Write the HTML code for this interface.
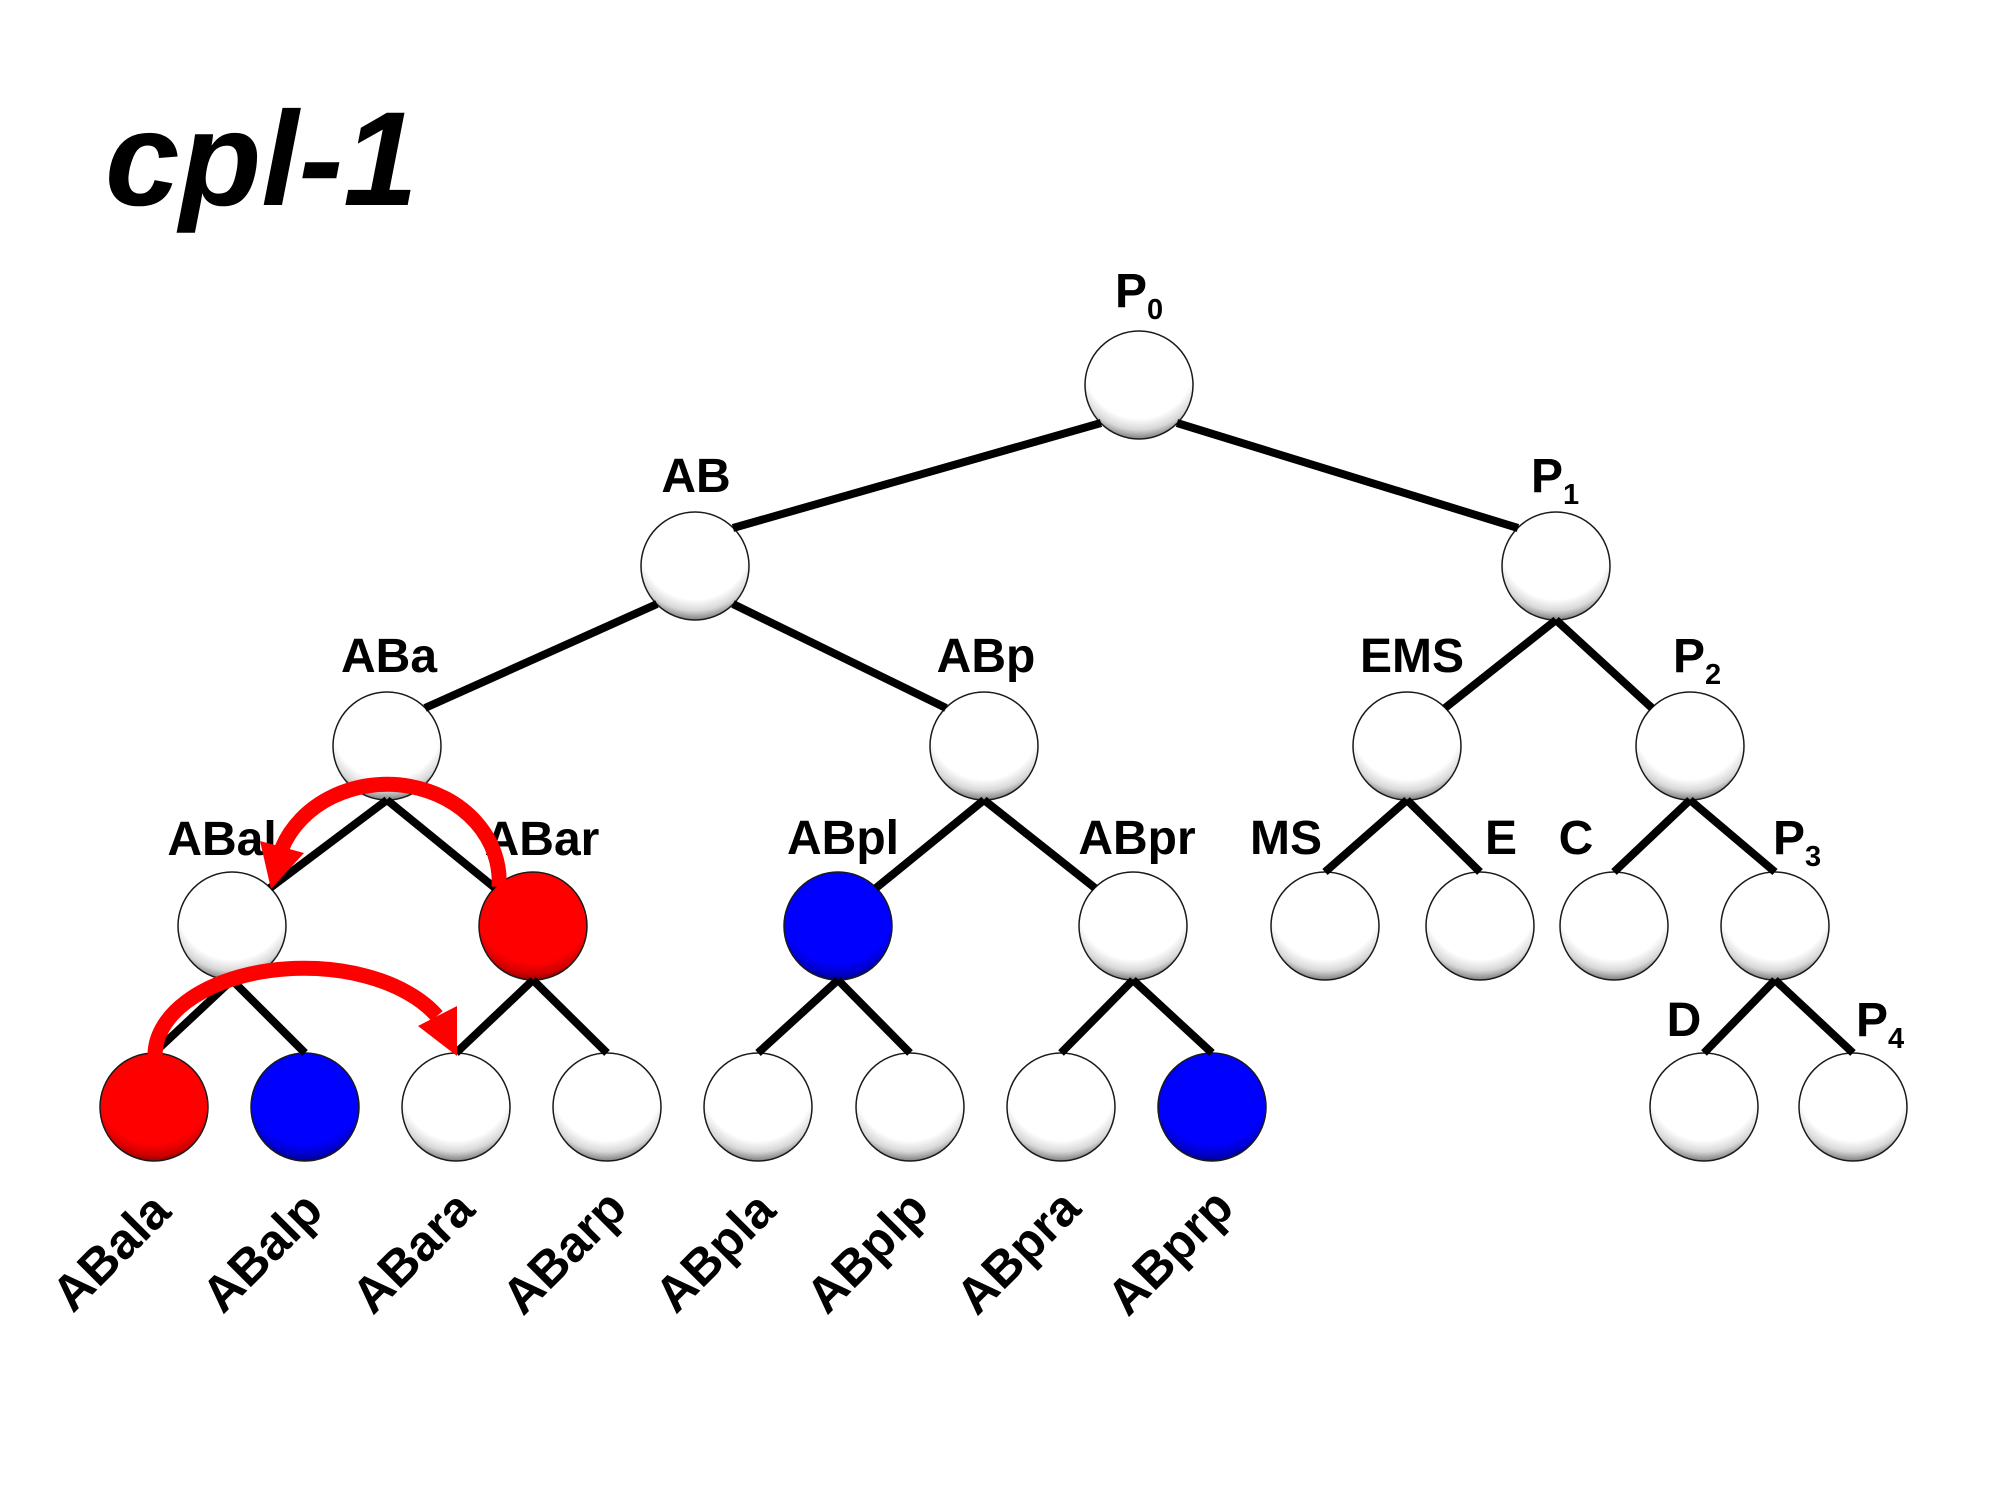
<!DOCTYPE html>
<html>
<head>
<meta charset="utf-8">
<style>
  html, body { margin:0; padding:0; background:#fff; }
  svg { display:block; }
  .lbl { font-family:"Liberation Sans", Arial, sans-serif; font-weight:bold; font-size:48px; fill:#000; }
  .rot { font-family:"Liberation Sans", Arial, sans-serif; font-weight:bold; font-size:50px; fill:#000; }
  .sub { font-size:29px; }
</style>
</head>
<body>
<svg width="1990" height="1493" viewBox="0 0 1990 1493" xmlns="http://www.w3.org/2000/svg">
  <defs>
    <radialGradient id="gw" cx="50%" cy="30%" r="75%" fx="50%" fy="30%">
      <stop offset="0" stop-color="#ffffff"/>
      <stop offset="0.68" stop-color="#ffffff"/>
      <stop offset="0.82" stop-color="#d8d8d8"/>
      <stop offset="0.94" stop-color="#7a7a7a"/>
      <stop offset="1" stop-color="#555555"/>
    </radialGradient>
    <radialGradient id="gr" cx="50%" cy="30%" r="75%" fx="50%" fy="30%">
      <stop offset="0" stop-color="#ff0000"/>
      <stop offset="0.72" stop-color="#ff0000"/>
      <stop offset="0.86" stop-color="#d00000"/>
      <stop offset="1" stop-color="#600000"/>
    </radialGradient>
    <radialGradient id="gb" cx="50%" cy="30%" r="75%" fx="50%" fy="30%">
      <stop offset="0" stop-color="#0000ff"/>
      <stop offset="0.72" stop-color="#0000ff"/>
      <stop offset="0.86" stop-color="#0000c8"/>
      <stop offset="1" stop-color="#000050"/>
    </radialGradient>
  </defs>

  <rect x="0" y="0" width="1990" height="1493" fill="#fff"/>

  <!-- Title -->
  <text x="105" y="205" style="font-family:'Liberation Sans', Arial, sans-serif; font-weight:bold; font-style:italic; font-size:134px;" fill="#000">cpl-1</text>

  <!-- Circles -->
  <g stroke="#1a1a1a" stroke-width="1.5">
    <circle cx="1139" cy="385" r="54" fill="url(#gw)"/>
    <circle cx="695" cy="566" r="54" fill="url(#gw)"/>
    <circle cx="1556" cy="566" r="54" fill="url(#gw)"/>
    <circle cx="387" cy="746" r="54" fill="url(#gw)"/>
    <circle cx="984" cy="746" r="54" fill="url(#gw)"/>
    <circle cx="1407" cy="746" r="54" fill="url(#gw)"/>
    <circle cx="1690" cy="746" r="54" fill="url(#gw)"/>

    <circle cx="232" cy="926" r="54" fill="url(#gw)"/>
    <circle cx="533" cy="926" r="54" fill="url(#gr)"/>
    <circle cx="838" cy="926" r="54" fill="url(#gb)"/>
    <circle cx="1133" cy="926" r="54" fill="url(#gw)"/>
    <circle cx="1325" cy="926" r="54" fill="url(#gw)"/>
    <circle cx="1480" cy="926" r="54" fill="url(#gw)"/>
    <circle cx="1614" cy="926" r="54" fill="url(#gw)"/>
    <circle cx="1775" cy="926" r="54" fill="url(#gw)"/>

    <circle cx="154" cy="1107" r="54" fill="url(#gr)"/>
    <circle cx="305" cy="1107" r="54" fill="url(#gb)"/>
    <circle cx="456" cy="1107" r="54" fill="url(#gw)"/>
    <circle cx="607" cy="1107" r="54" fill="url(#gw)"/>
    <circle cx="758" cy="1107" r="54" fill="url(#gw)"/>
    <circle cx="910" cy="1107" r="54" fill="url(#gw)"/>
    <circle cx="1061" cy="1107" r="54" fill="url(#gw)"/>
    <circle cx="1212" cy="1107" r="54" fill="url(#gb)"/>
    <circle cx="1704" cy="1107" r="54" fill="url(#gw)"/>
    <circle cx="1853" cy="1107" r="54" fill="url(#gw)"/>
  </g>

  <!-- Connector lines -->
  <g stroke="#000" stroke-width="8" stroke-linecap="butt" fill="none">
    <line x1="1101" y1="423" x2="733" y2="528"/>
    <line x1="1177" y1="423" x2="1518" y2="528"/>
    <line x1="657" y1="604" x2="425" y2="708"/>
    <line x1="733" y1="604" x2="946" y2="708"/>
    <line x1="1556" y1="620" x2="1445" y2="708"/>
    <line x1="1556" y1="620" x2="1652" y2="708"/>

    <line x1="387" y1="800" x2="270" y2="888"/>
    <line x1="387" y1="800" x2="495" y2="888"/>
    <line x1="984" y1="800" x2="876" y2="888"/>
    <line x1="984" y1="800" x2="1095" y2="888"/>
    <line x1="1407" y1="800" x2="1325" y2="872"/>
    <line x1="1407" y1="800" x2="1480" y2="872"/>
    <line x1="1690" y1="800" x2="1614" y2="872"/>
    <line x1="1690" y1="800" x2="1775" y2="872"/>

    <line x1="232" y1="980" x2="154" y2="1053"/>
    <line x1="232" y1="980" x2="305" y2="1053"/>
    <line x1="533" y1="980" x2="456" y2="1053"/>
    <line x1="533" y1="980" x2="607" y2="1053"/>
    <line x1="838" y1="980" x2="758" y2="1053"/>
    <line x1="838" y1="980" x2="910" y2="1053"/>
    <line x1="1133" y1="980" x2="1061" y2="1053"/>
    <line x1="1133" y1="980" x2="1212" y2="1053"/>
    <line x1="1775" y1="980" x2="1704" y2="1053"/>
    <line x1="1775" y1="980" x2="1853" y2="1053"/>
  </g>

  <!-- Node labels -->
  <g>
    <text x="1115" y="307" class="lbl">P<tspan class="sub" dy="12">0</tspan></text>
    <text x="696" y="492" class="lbl" text-anchor="middle">AB</text>
    <text x="1531" y="492" class="lbl">P<tspan class="sub" dy="12">1</tspan></text>

    <text x="389" y="672" class="lbl" text-anchor="middle">ABa</text>
    <text x="986" y="672" class="lbl" text-anchor="middle">ABp</text>
    <text x="1412" y="672" class="lbl" text-anchor="middle">EMS</text>
    <text x="1673" y="672" class="lbl">P<tspan class="sub" dy="12">2</tspan></text>

    <text x="222" y="855" class="lbl" text-anchor="middle">ABal</text>
    <text x="542" y="855" class="lbl" text-anchor="middle">ABar</text>
    <text x="843" y="854" class="lbl" text-anchor="middle">ABpl</text>
    <text x="1137" y="854" class="lbl" text-anchor="middle">ABpr</text>
    <text x="1286" y="854" class="lbl" text-anchor="middle">MS</text>
    <text x="1501" y="854" class="lbl" text-anchor="middle">E</text>
    <text x="1576" y="854" class="lbl" text-anchor="middle">C</text>
    <text x="1773" y="854" class="lbl">P<tspan class="sub" dy="12">3</tspan></text>

    <text x="1684" y="1036" class="lbl" text-anchor="middle">D</text>
    <text x="1856" y="1036" class="lbl">P<tspan class="sub" dy="12">4</tspan></text>
  </g>

  <!-- Rotated bottom labels -->
  <g>
    <text class="rot" text-anchor="middle" x="123" y="1264" transform="rotate(-45 123 1264)">ABala</text>
    <text class="rot" text-anchor="middle" x="274" y="1264" transform="rotate(-45 274 1264)">ABalp</text>
    <text class="rot" text-anchor="middle" x="425" y="1264" transform="rotate(-45 425 1264)">ABara</text>
    <text class="rot" text-anchor="middle" x="576" y="1264" transform="rotate(-45 576 1264)">ABarp</text>
    <text class="rot" text-anchor="middle" x="727" y="1264" transform="rotate(-45 727 1264)">ABpla</text>
    <text class="rot" text-anchor="middle" x="879" y="1264" transform="rotate(-45 879 1264)">ABplp</text>
    <text class="rot" text-anchor="middle" x="1030" y="1264" transform="rotate(-45 1030 1264)">ABpra</text>
    <text class="rot" text-anchor="middle" x="1182" y="1264" transform="rotate(-45 1182 1264)">ABprp</text>
  </g>

  <!-- Red arrows -->
  <g fill="none" stroke="#ff0000" stroke-width="15" stroke-linecap="butt">
    <path d="M 499 887 A 112 97 0 0 0 282 848"/>
    <path d="M 155 1056 A 149 87 0 0 1 437 1016"/>
  </g>
  <g fill="#ff0000" stroke="none">
    <polygon points="260,841 304,853 271,889"/>
    <polygon points="418,1026 457,1006 457,1056"/>
  </g>
</svg>
</body>
</html>
